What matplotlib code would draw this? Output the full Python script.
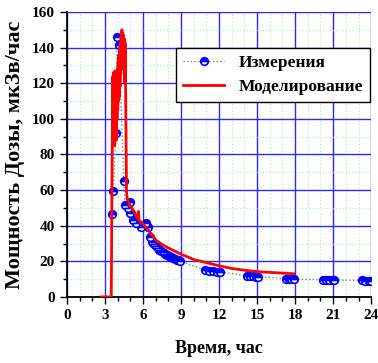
import matplotlib
matplotlib.use("Agg")
import matplotlib.pyplot as plt
from matplotlib.ticker import MultipleLocator

# Measurements
meas_t = [3.52, 3.65, 3.86, 3.96, 4.10, 4.49, 4.57, 4.83, 4.96, 4.96, 5.22, 5.48, 5.88,
          6.27, 6.40, 6.55, 6.70, 6.85, 7.00, 7.15, 7.30, 7.45, 7.60, 7.75, 7.90,
          8.05, 8.20, 8.35, 8.50, 8.65, 8.80, 8.95,
          10.9, 11.2, 11.5, 11.8, 12.1,
          14.2, 14.45, 14.7, 14.95, 15.1,
          17.3, 17.5, 17.7, 17.9,
          20.2, 20.45, 20.7, 20.95, 21.1,
          23.3, 23.55, 23.8, 23.95]
meas_v = [46.6, 59.7, 92.0, 146.0, 141.6, 65.3, 51.7, 49.8, 53.5, 47.0, 43.0, 41.4, 39.5,
          41.4, 39.5, 33.9, 31.0, 29.5, 28.5, 27.5, 26.5, 25.8, 25.0, 24.3, 23.7,
          23.0, 22.5, 22.0, 21.5, 21.0, 20.5, 20.0,
          15.2, 14.8, 14.5, 14.2, 14.0,
          12.0, 11.8, 11.6, 11.4, 11.3,
          10.3, 10.2, 10.1, 10.0,
          9.7, 9.6, 9.5, 9.5, 9.4,
          9.3, 9.2, 9.1, 9.1]

# Model
model_t = [2.7, 3.5, 3.55, 3.58, 3.62, 3.65, 3.68, 3.71, 3.74, 3.77, 3.80, 3.83, 3.86,
           3.89, 3.92, 3.95, 3.98, 4.01, 4.04, 4.07, 4.10, 4.13, 4.16, 4.19, 4.22,
           4.25, 4.28, 4.31, 4.34, 4.37, 4.40, 4.43, 4.46, 4.49, 4.52, 4.55, 4.58,
           4.61, 4.65, 4.70, 4.75,
           5.0, 5.3, 5.6, 5.65, 5.7, 6.0, 6.5, 7.0, 7.5, 8.0, 9.0, 10.0, 11.0, 12.0,
           13.0, 14.0, 15.0, 16.0, 17.0, 17.9]
model_v = [0, 0, 60, 88, 124, 86, 126, 90, 122, 85, 127, 95, 120,
           88, 126, 100, 128, 105, 132, 110, 136, 112, 140, 118, 142,
           125, 146, 130, 150, 135, 148, 128, 147, 132, 145, 120, 143,
           138, 100, 60, 55,
           51, 48, 44, 48, 43, 41, 37, 32, 29.5, 27.5, 24, 21, 19.3, 17.5,
           16, 15, 14.2, 13.8, 13.4, 13.0]

plt.rcParams['font.family'] = ['Liberation Serif', 'DejaVu Serif']
plt.rcParams['font.weight'] = 'bold'

fig = plt.figure(figsize=(3.78, 3.63), dpi=100)
ax = fig.add_axes([0.177, 0.182, 0.805, 0.785])

ax.set_xlim(0, 24)
ax.set_ylim(0, 160)
ax.xaxis.set_major_locator(MultipleLocator(3))
ax.xaxis.set_minor_locator(MultipleLocator(1))
ax.yaxis.set_major_locator(MultipleLocator(20))
ax.yaxis.set_minor_locator(MultipleLocator(10))

ax.grid(which='minor', color='#b8f0b8', linestyle=':', linewidth=0.9)
ax.grid(which='major', color='#2a2aff', linestyle='-', linewidth=1.0)
ax.set_axisbelow(True)

ax.plot(meas_t, meas_v, linestyle=':', color='gray', linewidth=1.0,
        marker='o', markersize=5.5, markeredgecolor='blue', markerfacecolor='blue',
        fillstyle='top', markerfacecoloralt='white', markeredgewidth=1.2,
        label='Измерения', zorder=3)
ax.plot(model_t, model_v, color='red', linewidth=2.0, label='Моделирование', zorder=4)

for s in ['top', 'right']:
    ax.spines[s].set_visible(False)
for s in ['left', 'bottom']:
    ax.spines[s].set_linewidth(1.3)

ax.tick_params(which='major', direction='out', length=5, width=1, labelsize=11)
ax.tick_params(which='minor', direction='out', length=3, width=1)
for lab in ax.get_xticklabels() + ax.get_yticklabels():
    lab.set_fontweight('bold')

ax.set_xlabel('Время, час', fontsize=13, fontweight='bold', labelpad=13)
ax.set_ylabel('Мощность Дозы, мкЗв/час', fontsize=16, fontweight='bold', labelpad=5)

leg = ax.legend(loc='upper right', bbox_to_anchor=(0.995, 0.874), fontsize=12.5,
                frameon=True, fancybox=False, edgecolor='black', framealpha=1,
                handlelength=2.4, borderpad=0.4, labelspacing=0.45, borderaxespad=0)
leg.get_frame().set_linewidth(1.0)
for t in leg.get_texts():
    t.set_fontweight('bold')

fig.savefig('out.png', dpi=100)
